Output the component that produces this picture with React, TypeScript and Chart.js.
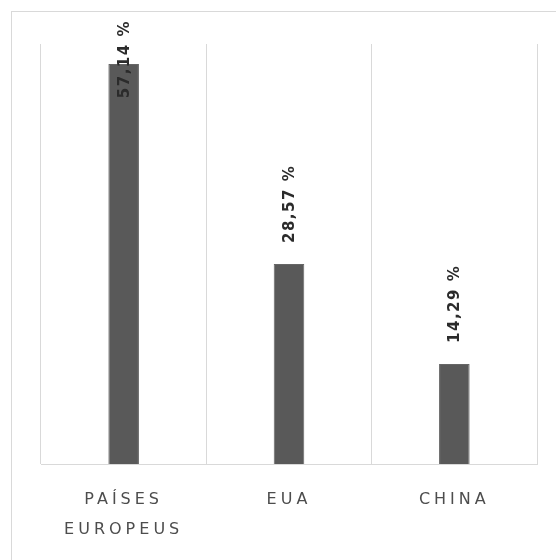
import { useEffect, useRef } from 'react';
import { Chart, registerables } from 'chart.js';

Chart.register(...registerables);

const categories: (string | string[])[] = [['PAÍSES', 'EUROPEUS'], 'EUA', 'CHINA'];
const values = [57.14, 28.57, 14.29];
const valueLabels = ['57,14 %', '28,57 %', '14,29 %'];
const yMin = 0;
const yMax = 60;

const W = 556;
const H = 560;

const framePlugin = {
  id: 'frame',
  beforeDraw(chart: any) {
    const ctx = chart.ctx;
    ctx.save();
    ctx.fillStyle = '#ffffff';
    ctx.fillRect(0, 0, W, H);
    ctx.strokeStyle = '#d9d9d9';
    ctx.lineWidth = 1;
    ctx.strokeRect(11.5, 11.5, W + 40, H + 40);
    ctx.restore();
    ctx.letterSpacing = '4px';
  },
  beforeDatasetsDraw(chart: any) {
    chart.ctx.letterSpacing = '0px';
  },
};

const valueLabelPlugin = {
  id: 'valueLabels',
  afterDatasetsDraw(chart: any) {
    const ctx = chart.ctx;
    const meta = chart.getDatasetMeta(0);
    meta.data.forEach((bar: any, i: number) => {
      const text = valueLabels[i];
      ctx.save();
      ctx.font = 'bold 15px "DejaVu Sans"';
      ctx.letterSpacing = '1.5px';
      ctx.fillStyle = '#2b2b2b';
      const w = ctx.measureText(text).width;
      let start = bar.y - 21;
      const minTop = 20;
      if (start - w < minTop) start = minTop + w;
      ctx.translate(bar.x + 1, start);
      ctx.rotate(-Math.PI / 2);
      ctx.textAlign = 'left';
      ctx.textBaseline = 'middle';
      ctx.fillText(text, 0, 0);
      ctx.restore();
    });
  },
};

export default function App() {
  const ref = useRef<HTMLCanvasElement | null>(null);

  useEffect(() => {
    if (!ref.current) return;
    const chart = new Chart(ref.current, {
      type: 'bar',
      data: {
        labels: categories as any,
        datasets: [
          {
            data: values,
            backgroundColor: '#595959',
            borderColor: '#666666',
            borderWidth: 1,
            categoryPercentage: 1,
            barPercentage: 0.185,
          },
        ],
      },
      options: {
        responsive: false,
        animation: false,
        events: [],
        layout: { padding: { left: 41, right: 19, top: 44, bottom: 0 } },
        plugins: {
          legend: { display: false },
          tooltip: { enabled: false },
          title: { display: false },
        },
        scales: {
          x: {
            offset: true,
            grid: {
              display: true,
              offset: true,
              color: '#d9d9d9',
              lineWidth: 1,
              drawTicks: false,
            },
            border: { display: true, color: '#d9d9d9', width: 1 },
            ticks: {
              color: '#4d4d4d',
              padding: 21,
              font: { family: '"DejaVu Sans"', size: 16, lineHeight: 1.875 },
              maxRotation: 0,
              minRotation: 0,
            },
            afterFit: (scale: any) => {
              scale.height = 96;
            },
          },
          y: {
            display: false,
            min: yMin,
            max: yMax,
          },
        },
      },
      plugins: [framePlugin, valueLabelPlugin],
    });
    return () => chart.destroy();
  }, []);

  return (
    <div style={{ position: 'fixed', left: 0, top: 0, width: W, height: H, overflow: 'hidden' }}>
      <canvas ref={ref} width={W} height={H} style={{ display: 'block' }} />
    </div>
  );
}
